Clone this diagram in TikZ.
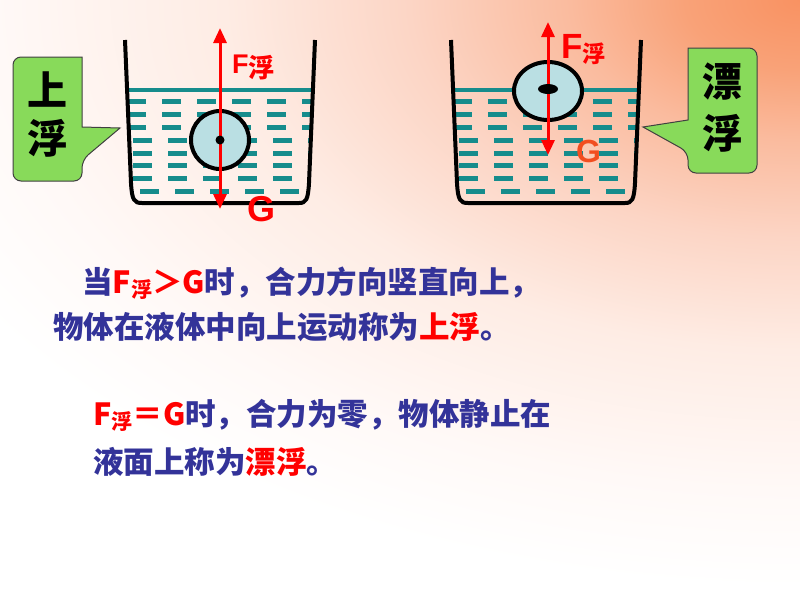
\documentclass[tikz,border=0pt]{standalone}
\usepackage{fontspec}
\setmainfont{Liberation Sans}
\newfontfamily\cjk{Noto Sans CJK SC}
\usetikzlibrary{arrows.meta,shapes.geometric}
\definecolor{bgA}{RGB}{249,146,98}
\definecolor{bgB}{RGB}{249,162,120}
\definecolor{bgC}{RGB}{250,187,158}
\definecolor{bgD}{RGB}{252,213,197}
\definecolor{bgE}{RGB}{254,236,228}
\definecolor{bgF}{RGB}{255,249,247}
\definecolor{water}{RGB}{22,140,140}
\definecolor{ballfill}{RGB}{186,223,227}
\definecolor{bubblegreen}{RGB}{136,218,90}
\definecolor{textblue}{RGB}{51,51,153}
\definecolor{hot}{RGB}{255,0,0}
\definecolor{gorange}{RGB}{242,78,32}
\pgfdeclareradialshading{bgglow}{\pgfpoint{0bp}{0bp}}{color(0bp)=(bgA); color(2.5bp)=(bgB); color(5bp)=(bgC); color(8.5bp)=(bgD); color(12.5bp)=(bgE); color(17.5bp)=(bgF); color(21bp)=(white); color(50bp)=(white)}
\newcommand{\subfu}[1]{\raisebox{-4pt}{\fontsize{#1}{#1}\selectfont 浮}}
\tikzset{
  beaker/.style={line width=4pt, line join=round},
  surface/.style={water, line width=4pt},
  dashline/.style={water, line width=5pt},
  ball/.style={circle, draw, line width=4pt, fill=ballfill, inner sep=0pt, minimum size=58pt},
  force/.style={hot, line width=3pt, -{Triangle[width=13pt,length=15pt]}},
  bubble/.style={fill=bubblegreen, draw=black!75, line width=1pt},
  bigchar/.style={font=\cjk\bfseries\fontsize{40}{40}\selectfont, inner sep=0pt},
  body/.style={font=\cjk\bfseries\fontsize{30.5}{36}\selectfont, text=textblue, anchor=base west, inner sep=0pt},
}
\begin{document}
\begin{tikzpicture}[x=1pt,y=-1pt]
\useasboundingbox (0,0) rectangle (800,600);
% background
\fill[white] (0,0) rectangle (800,600);
\begin{scope}
\clip (0,0) rectangle (800,600);
\shade[shading=bgglow] (800,0) ellipse (1150pt and 700pt);
\end{scope}
% callouts
\draw[bubble] (120,128) -- (82,127) -- (82,57) [rounded corners=8pt] -- (13,57) -- (13,181) -- (82,181) -- (82,160) [sharp corners] -- cycle;
\node[bigchar] (lup) at (47.5,90) {上};
\node[bigchar] (lfu) at (47.5,138) {浮};
\draw[bubble] (643,127) -- (688,120) -- (688,48) [rounded corners=8pt] -- (757,48) -- (757,173) -- (688,173) -- (688,152) [sharp corners] -- cycle;
\node[bigchar] (rpiao) at (722.5,82) {漂};
\node[bigchar] (rfu) at (722.5,133) {浮};
% beakers with water
\foreach \bx in {0,326}{
\begin{scope}[xshift=\bx pt]
\begin{scope}
\clip (125,40) -- (131,183) .. controls (132,200) and (134,203) .. (142,203) -- (299,203) .. controls (306,203) and (308,200) .. (309,183) -- (315,40) -- cycle;
\foreach \y in {101,114,127}
  \foreach \k in {0,...,5}
    \draw[dashline] ({127+35*\k},\y) -- ++(19,0);
\foreach \y in {140,153,165,178}
  \foreach \k in {0,...,5}
    \draw[dashline] ({133+35*\k},\y) -- ++(19,0);
\foreach \k in {0,...,4}
  \draw[dashline] ({140+35*\k},191) -- ++(19,0);
\draw[surface] (120,90) -- (320,90);
\end{scope}
\draw[beaker] (125,40) -- (131,183) .. controls (132,200) and (134,203) .. (142,203) -- (299,203) .. controls (306,203) and (308,200) .. (309,183) -- (315,40);
\end{scope}
}
% left: rising
\node[ball] (lball) at (220,140) {};
\coordinate (lF) at (220,28);
\coordinate (lG) at (220,209);
\draw[force] (lball.center) -- (lF);
\draw[force] (lball.center) -- (lG);
\fill (lball.center) circle (4.5pt);
\node[anchor=base west, inner sep=0pt, text=hot, font=\bfseries\fontsize{27}{27}\selectfont] (lFlab) at (232,73) {F\cjk\subfu{26}};
\node[anchor=base west, inner sep=0pt, text=hot, font=\bfseries\fontsize{36}{36}\selectfont] (lGlab) at (247,221) {G};
% right: floating
\node[ball, ellipse, minimum width=68pt, minimum height=58pt] (rball) at (548,91) {};
\coordinate (rF) at (548,22);
\coordinate (rG) at (548,155);
\draw[force] (rball.center) -- (rF);
\draw[force] (rball.center) -- (rG);
\fill ([yshift=2pt]rball.center) ellipse (10pt and 5pt);
\node[anchor=base west, inner sep=0pt, text=hot, font=\bfseries\fontsize{35}{35}\selectfont] (rFlab) at (561,58) {F\cjk\raisebox{-4pt}{\fontsize{23}{23}\selectfont 浮}};
\node[anchor=base west, inner sep=0pt, text=gorange, font=\bfseries\fontsize{32}{32}\selectfont] (rGlab) at (576,162) {G};
% text
\node[body] (line1) at (82,293) {当{\color{hot}F\subfu{21}＞G}时，合力方向竖直向上，};
\node[body] (line2) at (53,338) {物体在液体中向上运动称为{\color{hot}上浮}。};
\node[body] (line3) at (93,425) {{\color{hot}F\subfu{21}＝G}时，合力为零，物体静止在};
\node[body] (line4) at (93,473) {液面上称为{\color{hot}漂浮}。};
\end{tikzpicture}
\end{document}
